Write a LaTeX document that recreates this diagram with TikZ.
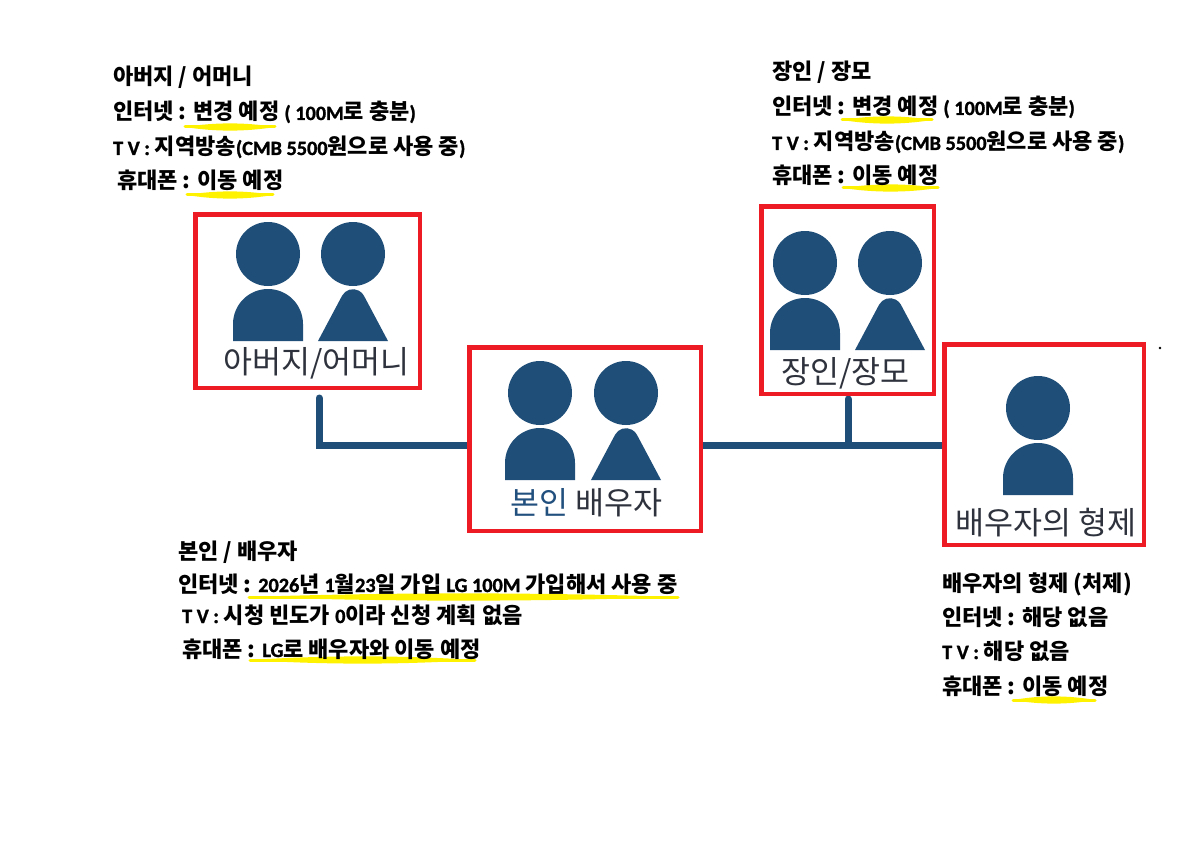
\documentclass[tikz,border=0pt]{standalone}
\usepackage{fontspec}
\newfontfamily\kr{Noto Sans CJK KR}
\newfontfamily\lat{Carlito}[Scale=0.92, UprightFont={* Bold}, BoldFont={* Bold}, FakeBold=1.3]
\usetikzlibrary{calc,backgrounds}
\pgfdeclarelayer{bgzero}
\pgfsetlayers{bgzero,background,main}
\definecolor{boxred}{RGB}{237,28,36}
\definecolor{fig}{RGB}{31,78,121}
\definecolor{lbl}{RGB}{46,50,60}
\definecolor{labblue}{RGB}{34,80,126}
\definecolor{hlc}{RGB}{255,242,0}
\newcommand\la[1]{{\lat\mdseries #1}}
\newcommand\manfig[2]{%
  \fill[fig] (#1,#2) circle[radius=32pt];
  \fill[fig] (#1-35,#2+87) -- (#1-35,#2+70) arc[start angle=180,end angle=0,radius=35pt] -- (#1+35,#2+87) -- cycle;}
\newcommand\womanfig[2]{%
  \fill[fig] (#1,#2) circle[radius=32pt];
  \pgfmathsetmacro\wcy{#2+47.6}\pgfmathsetmacro\wbot{#2+87}%
  \fill[fig] (#1-35,\wbot) -- ($(#1,\wcy)+(152:12.4pt)$) arc[start angle=152,end angle=28,radius=12.4pt] -- (#1+35,\wbot) -- cycle;}
\newcommand\hilite[3]{%
  \pgfmathsetmacro\ha{#1+(#2-#1)/3}\pgfmathsetmacro\hb{#2-(#2-#1)/3}%
  \fill[hlc] (#1,#3) .. controls (\ha,#3-4.8) and (\hb,#3-4.8) .. (#2,#3) .. controls (\hb,#3+4.8) and (\ha,#3+4.8) .. (#1,#3) -- cycle;
  \draw[hlc, line width=3pt, line cap=round] (#1,#3) -- (#2,#3);}
\begin{document}
\begin{tikzpicture}[x=1pt,y=-1pt,
  bx/.style={draw=boxred, line width=4.5pt, fill=white, inner sep=0pt},
  tree/.style={draw=fig, line width=7pt},
  txt/.style={anchor=base west, inner sep=0pt, font=\kr\bfseries\fontsize{22pt}{26pt}\selectfont},
  lab/.style={anchor=base, inner sep=0pt, text=lbl, font=\kr\fontsize{31.5pt}{36pt}\selectfont}]
\useasboundingbox (0,0) rectangle (1184,864);
\begin{pgfonlayer}{bgzero}
  \fill[white] (0,0) rectangle (1184,864);
\end{pgfonlayer}

% boxes
\node[bx, minimum width=224.5pt, minimum height=173.5pt] (b1) at (307.5,301) {};
\node[bx, minimum width=231.5pt, minimum height=183.5pt] (b2) at (585,439) {};
\node[bx, minimum width=172.5pt, minimum height=187.5pt] (b3) at (847.5,300) {};
\node[bx, minimum width=199.5pt, minimum height=200.5pt] (b4) at (1044,444.5) {};

% connectors
\coordinate (v1) at (319,398);
\coordinate (j1) at (319,445);
\coordinate (v3) at (848,399);
\begin{pgfonlayer}{background}
  \draw[tree, line cap=round, line join=miter] (v1) -- (j1) -- (j1 -| b4.west);
  \draw[tree, line cap=round] (v3) -- (v3 |- j1);
\end{pgfonlayer}

% figures
\manfig{268}{254}\womanfig{353}{254}
\manfig{540}{393}\womanfig{626}{393}
\manfig{805}{263}\womanfig{890}{263}
\manfig{1038}{408}

% box labels
\node[lab] (l1) at (316.5,373.5) {아버지/어머니};
\node[lab] (l2) at (586.5,514.5) {{\color{labblue}본인} 배우자};
\node[lab] (l3) at (845.5,383.5) {장인/장모};
\node[lab] (l4) at (1046,534.5) {배우자의 형제};

% highlights
\hilite{185}{275}{127}
\hilite{187}{273}{195}
\hilite{842}{932}{120}
\hilite{843}{938}{188}
\hilite{249}{678}{597}
\hilite{250}{475}{660}
\hilite{1013}{1095}{700}

% info texts
\node[txt] (tl1) at (113,85) {아버지 / 어머니};
\node[txt] (tl2) at (113,120) {인터넷 : 변경 예정 \la{( 100M}로 충분\la{)}};
\node[txt] (tl3) at (113,155) {\la{T V :} 지역방송\la{(CMB 5500}원으로 사용 중\la{)}};
\node[txt] (tl4) at (117,189) {휴대폰 : 이동 예정};

\node[txt] (tr1) at (772,80) {장인 / 장모};
\node[txt] (tr2) at (772,115) {인터넷 : 변경 예정 \la{( 100M}로 충분\la{)}};
\node[txt] (tr3) at (772,150) {\la{T V :} 지역방송\la{(CMB 5500}원으로 사용 중\la{)}};
\node[txt] (tr4) at (772,184) {휴대폰 : 이동 예정};

\node[txt] (bl1) at (178,559) {본인 / 배우자};
\node[txt] (bl2) at (178,592) {인터넷 :\hspace{0.3em}\la{2026}년 \la{1}월\la{23}일 가입 \la{LG 100M} 가입해서 사용 중};
\node[txt] (bl3) at (182,623) {\la{T V :} 시청 빈도가 \la{0}이라 신청 계획 없음};
\node[txt] (bl4) at (182,657) {휴대폰 : \la{LG}로 배우자와 이동 예정};

\node[txt] (br1) at (942,591) {배우자의 형제 (처제)};
\node[txt] (br2) at (942,625) {인터넷 : 해당 없음};
\node[txt] (br3) at (942,659) {\la{T V :} 해당 없음};
\node[txt] (br4) at (942,694) {휴대폰 : 이동 예정};

% stray dot
\fill (1160,348) circle[radius=1.3pt];
\end{tikzpicture}
\end{document}
